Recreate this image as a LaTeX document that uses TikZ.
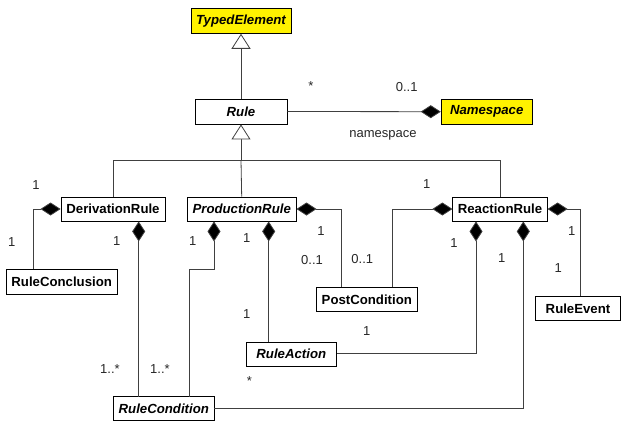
\documentclass[tikz,border=0pt]{standalone}
\usepackage{fontspec}
\setmainfont{Liberation Sans}
\usetikzlibrary{arrows.meta}
\begin{document}
\begin{tikzpicture}[x=1pt,y=-1pt,
  font=\fontsize{13}{15}\selectfont,
  cls/.style={draw=black,line width=0.9pt,fill=white,inner sep=0pt,
    font=\fontsize{13.2}{15}\selectfont\bfseries},
  abstr/.style={cls,font=\fontsize{13.2}{15}\selectfont\bfseries\itshape},
  ext/.style={abstr,fill=yellow},
  link/.style={line width=0.8pt,draw=black!75},
  inherit/.style={link,-{Triangle[open,length=15pt,width=19pt,fill=white,line width=0.8pt]}},
  comp/.style={link,{Diamond[length=20pt,width=13pt,fill=black]}-},
  mult/.style={inner sep=0pt,text=black!85}]
\useasboundingbox (0,0) rectangle (622,424);

% classes
\node[ext,minimum width=100pt,minimum height=25pt] (TE) at (241,20.8) {TypedElement};
\node[abstr,minimum width=92pt,minimum height=25pt] (R) at (241,111.5) {Rule};
\node[ext,minimum width=91pt,minimum height=25pt] (NS) at (486.7,111.7) {Namespace};
\node[cls,minimum width=104pt,minimum height=24pt] (DR) at (113,209) {DerivationRule};
\node[abstr,minimum width=108.7pt,minimum height=24pt] (PR) at (241.7,209) {ProductionRule};
\node[cls,minimum width=94.3pt,minimum height=24pt] (RR) at (500,209) {ReactionRule};
\node[cls,minimum width=110.7pt,minimum height=25pt] (RCl) at (61.7,281.5) {RuleConclusion};
\node[cls,minimum width=100.3pt,minimum height=24.4pt] (PC) at (366.8,299.5) {PostCondition};
\node[cls,minimum width=85pt,minimum height=24pt] (RE) at (578,308.7) {RuleEvent};
\node[abstr,minimum width=90.7pt,minimum height=23.7pt] (RA) at (291.3,354.2) {RuleAction};
\node[abstr,minimum width=100.3pt,minimum height=23.6pt] (RCo) at (163.8,408.5) {RuleCondition};

% generalisations
\draw[inherit] (R.north) -- (TE.south);
\coordinate (bus) at (241,160);
\draw[link] (DR.north) -- (DR.north |- bus) -- (RR.north |- bus) -- (RR.north);
\draw[link] (PR.north) -- (bus);
\draw[inherit] (bus) -- (R.south);

% Rule -- Namespace
\draw[comp] (NS.west) -- (R.east);
\node[mult] at (311,86) {*};
\node[mult] at (406.7,87) {0..1};
\node[mult] at (383,135) {namespace};

% DerivationRule compositions
\draw[comp] (DR.west) -- ++(-27.5,0) coordinate (c1) -- (c1 |- RCl.north);
\node[mult] at (36,185) {1};
\node[mult] at (11.7,241.7) {1};
\draw[comp] (DR.south -| 138.7,0) -- (138.7,396.75);
\node[mult] at (116.7,241) {1};
\node[mult] at (110,369) {1..*};

% ProductionRule compositions
\draw[comp] (PR.south -| 214,0) -- (214,269) -- (189,269) -- (189,396.75);
\node[mult] at (192.7,241) {1};
\node[mult] at (160,369) {1..*};
\draw[comp] (PR.south -| 268.7,0) -- (268.7,342.35);
\node[mult] at (246.7,238) {1};
\node[mult] at (246.7,314) {1};
\node[mult] at (249.3,381) {*};
\draw[comp] (PR.east) -- (341.7,209) coordinate (c2) -- (c2 |- PC.north);
\node[mult] at (321,231) {1};
\node[mult] at (312,260) {0..1};

% ReactionRule compositions
\draw[comp] (RR.west) -- (392.3,209) coordinate (c3) -- (c3 |- PC.north);
\node[mult] at (426.7,184) {1};
\node[mult] at (362.3,259.3) {0..1};
\draw[comp] (RR.east) -- (580,209) coordinate (c4) -- (c4 |- RE.north);
\node[mult] at (571.7,231) {1};
\node[mult] at (558.3,268.3) {1};
\draw[comp] (RR.south -| 476,0) -- (476,353.3) -- (RA.east |- 0,353.3);
\node[mult] at (454,243) {1};
\node[mult] at (366.7,330.7) {1};
\draw[comp] (RR.south -| 523.3,0) -- (523.3,408.3) -- (RCo.east |- 0,408.3);
\node[mult] at (501.7,258.3) {1};
\end{tikzpicture}
\end{document}
